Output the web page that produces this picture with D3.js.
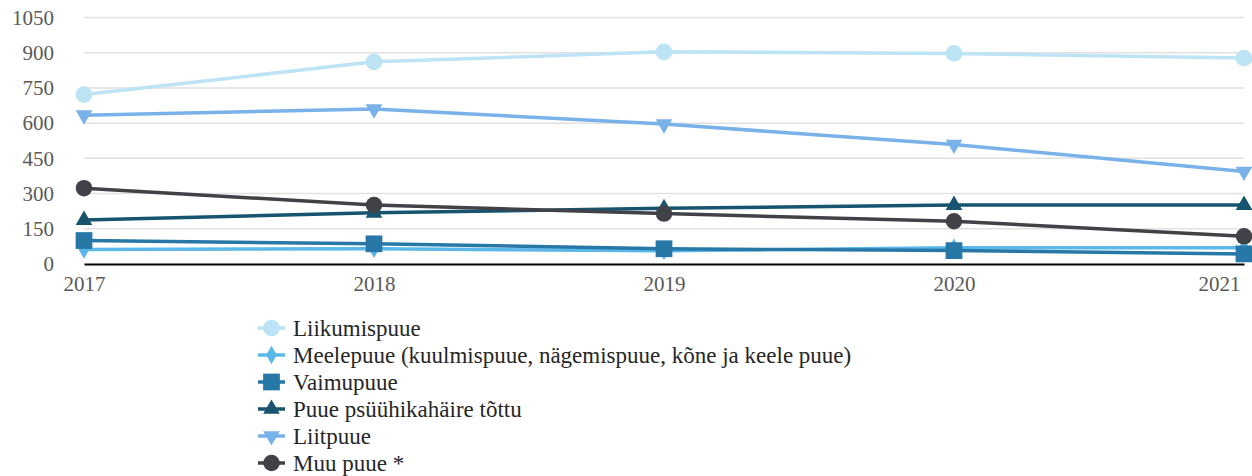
<!DOCTYPE html>
<html lang="et">
  <head>
    <title>Puue</title>
    <meta charset="utf-8">
    <style>
      body { margin: 0; background: #fff; }
    </style>
  </head>
  <body>
<svg width="1252" height="476"></svg>
<script src="https://d3js.org/d3.v7.min.js"></script>
<script>

var years = [2017, 2018, 2019, 2020, 2021];
var yTicks = [0, 150, 300, 450, 600, 750, 900, 1050];

var liikumispuue = [722, 861, 904, 897, 877];
var meelepuue = [62, 65, 56, 69, 69];
var vaimupuue = [100, 86, 65, 57, 43];
var psyyhikaPuue = [187, 218, 237, 251, 251];
var liitpuue = [634, 660, 596, 509, 394];
var muuPuue = [323, 251, 215, 182, 118];

var seriesNames = ["Liikumispuue", "Meelepuue (kuulmispuue, nägemispuue, kõne ja keele puue)",
  "Vaimupuue", "Puue psüühikahäire tõttu", "Liitpuue", "Muu puue *"];
var seriesValues = [liikumispuue, meelepuue, vaimupuue, psyyhikaPuue, liitpuue, muuPuue];
var seriesColors = ["#bde4f5", "#5bb8e8", "#2777a7", "#16546f", "#79b1e9", "#414148"];
var seriesSymbols = [d3.symbolCircle, d3.symbolDiamond, d3.symbolSquare, d3.symbolTriangle, "down", d3.symbolCircle];
var symbolSizes = [220, 100, 280, 120, 120, 215];

var serif = "'Liberation Serif', 'Times New Roman', serif";

var svg = d3.select("svg");

var x = d3.scalePoint().domain(years).range([84, 1244]);
var y = d3.scaleLinear().domain([0, 1050]).range([264, 17.5]);

// gridlines
svg.append("g")
  .selectAll("line")
  .data(yTicks.slice(1))
  .join("line")
    .attr("x1", 84).attr("x2", 1244)
    .attr("y1", function(d) { return y(d); })
    .attr("y2", function(d) { return y(d); })
    .attr("stroke", "#e1e1e1")
    .attr("stroke-width", 1.5);

// y axis labels
var yAxis = svg.append("g")
    .attr("transform", "translate(54,0)")
    .call(d3.axisLeft(y).tickValues(yTicks).tickFormat(d3.format("d")).tickSize(0).tickPadding(0));
yAxis.select(".domain").remove();
yAxis.selectAll("text")
    .style("font-family", serif)
    .style("font-size", "21px")
    .attr("fill", "#595959");

// x axis
var xAxis = svg.append("g")
    .attr("transform", "translate(0,264)")
    .call(d3.axisBottom(x).tickFormat(d3.format("d")).tickSize(0).tickPadding(12));
xAxis.select(".domain").attr("stroke", "#000").attr("stroke-width", 2);
xAxis.selectAll("text")
    .style("font-family", serif)
    .style("font-size", "21px")
    .attr("fill", "#595959");
// last year label kept inside the frame
xAxis.selectAll(".tick").filter(function(d) { return d === 2021; }).select("text")
    .attr("text-anchor", "end")
    .attr("x", -4);

var line = d3.line()
    .x(function(d, i) { return x(years[i]); })
    .y(function(d) { return y(d); });

function symbolPath(k) {
  var s = seriesSymbols[k];
  if (s === "down") return d3.symbol().type(d3.symbolTriangle).size(symbolSizes[k])();
  return d3.symbol().type(s).size(symbolSizes[k])();
}
function symbolTransform(k, px, py) {
  return "translate(" + px + "," + py + ")" + (seriesSymbols[k] === "down" ? " rotate(180)" : "");
}

seriesValues.forEach(function(vals, k) {
  var g = svg.append("g");
  g.append("path")
    .datum(vals)
    .attr("d", line)
    .attr("fill", "none")
    .attr("stroke", seriesColors[k])
    .attr("stroke-width", 3.5);
  g.selectAll("path.mark")
    .data(vals)
    .join("path")
      .attr("class", "mark")
      .attr("d", symbolPath(k))
      .attr("transform", function(d, i) { return symbolTransform(k, x(years[i]), y(d)); })
      .attr("fill", seriesColors[k]);
});

// legend
var legend = svg.append("g");
seriesNames.forEach(function(name, k) {
  var ly = 328 + k * 27;
  legend.append("line")
    .attr("x1", 258).attr("x2", 285)
    .attr("y1", ly).attr("y2", ly)
    .attr("stroke", seriesColors[k])
    .attr("stroke-width", 3.5);
  legend.append("path")
    .attr("d", symbolPath(k))
    .attr("transform", symbolTransform(k, 271.5, ly))
    .attr("fill", seriesColors[k]);
  legend.append("text")
    .attr("x", 293).attr("y", ly)
    .attr("dy", "0.35em")
    .style("font-family", serif)
    .style("font-size", "23px")
    .attr("fill", "#262626")
    .text(name);
});

</script>
  </body>
</html>
